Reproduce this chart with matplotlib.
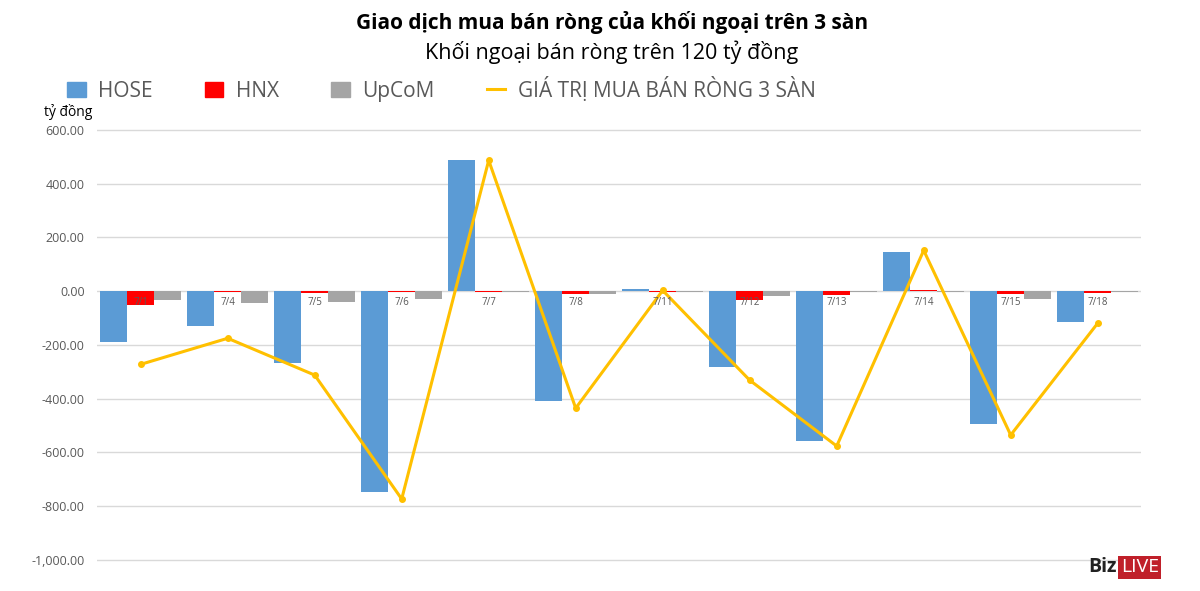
import numpy as np
import matplotlib
matplotlib.use('Agg')
import matplotlib.pyplot as plt
from matplotlib.lines import Line2D
from matplotlib.patches import Patch

plt.rcParams['font.family'] = ['Open Sans', 'DejaVu Sans']

# data (ty dong)
dates = ['7/1', '7/4', '7/5', '7/6', '7/7', '7/8', '7/11', '7/12', '7/13', '7/14', '7/15', '7/18']
hose = [-190, -130, -268, -747, 487, -409, 7, -283, -558, 145, -495, -115]
hnx = [-50, -2, -5, -3, -2, -12, -3, -33, -13, 5, -12, -8]
upcom = [-33, -44, -40, -30, -3, -12, -2, -17, -3, -4, -30, -2]
net_total = [-272, -175, -312, -773, 487, -435, 3, -331, -576, 152, -535, -119]

c_hose = '#5B9BD5'
c_hnx = '#FF0000'
c_upcom = '#A5A5A5'
c_line = '#FFC000'
txt = '#595959'

fig = plt.figure(figsize=(12, 5.91), dpi=100)
ax = fig.add_axes([0.081, 0.0479, 0.87, 0.7367])

x = np.arange(len(dates))
w = 0.31
ax.bar(x - w, hose, w, color=c_hose, zorder=2)
ax.bar(x, hnx, w, color=c_hnx, zorder=2)
ax.bar(x + w, upcom, w, color=c_upcom, zorder=2)
ax.plot(x, net_total, color=c_line, lw=2.2, marker='o', ms=4, zorder=3)

ax.set_xlim(-0.5, len(dates) - 0.5)
ax.set_ylim(-1010, 610)
ax.set_yticks(np.arange(-1000, 601, 200))
ax.yaxis.set_major_formatter(matplotlib.ticker.FuncFormatter(lambda v, p: f'{v:,.2f}'))
ax.tick_params(axis='y', length=0, labelsize=9, labelcolor=txt, pad=9)
ax.grid(axis='y', color='#D9D9D9', lw=1, zorder=0)
for s in ax.spines.values():
    s.set_visible(False)

# category labels sit just under the zero line
ax.set_xticks([])
for i, d in enumerate(dates):
    ax.text(i, -22, d, ha='center', va='top', fontsize=7, color=txt, zorder=4)

fig.text(0.51, 0.962, 'Giao dịch mua bán ròng của khối ngoại trên 3 sàn',
         ha='center', va='center', fontsize=15, fontweight='bold', color='black')
fig.text(0.51, 0.912, 'Khối ngoại bán ròng trên 120 tỷ đồng',
         ha='center', va='center', fontsize=15.5, color='black')
fig.text(0.037, 0.81, 'tỷ đồng', ha='left', va='center', fontsize=10, color='black')

handles = [Patch(color=c_hose), Patch(color=c_hnx), Patch(color=c_upcom),
           Line2D([0], [0], color=c_line, lw=2.2)]
labels = ['HOSE', 'HNX', 'UpCoM', 'GIÁ TRỊ MUA BÁN RÒNG 3 SÀN']
leg = fig.legend(handles, labels, loc='center left', bbox_to_anchor=(0.04, 0.849),
                 ncol=4, frameon=False, fontsize=15, handlelength=0.9, handleheight=0.8,
                 columnspacing=2.5, handletextpad=0.6)
for t in leg.get_texts():
    t.set_color(txt)

fig.text(0.907, 0.04, 'Biz', ha='left', va='center', fontsize=14, fontweight='bold', color='#222222')
fig.text(0.934, 0.04, 'LIVE', ha='left', va='center', fontsize=14, color='white',
         bbox=dict(boxstyle='square,pad=0.12', fc='#C0202A', ec='none'))

fig.savefig('out.png', dpi=100)
